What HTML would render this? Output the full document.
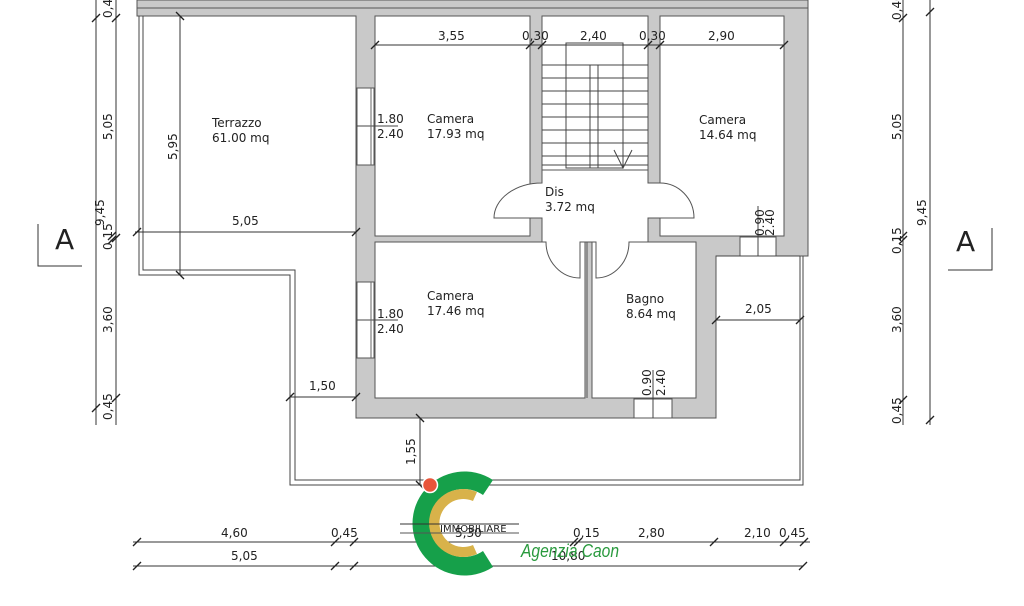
<!DOCTYPE html>
<html><head><meta charset="utf-8"><style>
html,body{margin:0;padding:0;background:#fff;}
svg{display:block;}
text{font-family:"DejaVu Sans","Liberation Sans",sans-serif;fill:#222;}
</style></head><body>
<svg width="1024" height="606" viewBox="0 0 1024 606" xmlns="http://www.w3.org/2000/svg">
<rect width="1024" height="606" fill="#fff"/>
<path d="M137,0 H808 V256 H716 V418 H356 V16 H137 Z" fill="#c9c9c9" stroke="#555" stroke-width="1"/>
<line x1="137" y1="8" x2="808" y2="8" stroke="#555" stroke-width="1"/>
<g fill="#fff" stroke="#555" stroke-width="1">
<rect x="375" y="16" width="155" height="220"/>
<rect x="542" y="16" width="106" height="154"/>
<rect x="660" y="16" width="124" height="220"/>
<rect x="375" y="242" width="210" height="156"/>
<rect x="592" y="242" width="104" height="156"/>
<path d="M542,170 H648 V183 H660 A34,35 0 0 1 694,218 H648 V242 H629 A33,36 0 0 1 596,278 V242 H580 V278 A34,36 0 0 1 546,242 H542 V218 H494 A48,35 0 0 1 542,183 Z"/>
<rect x="357" y="88" width="17" height="77"/>
<rect x="357" y="282" width="17" height="76"/>
<rect x="740" y="237" width="36" height="19"/>
<rect x="634" y="399" width="38" height="19"/>
</g>
<line x1="357" y1="126" x2="398" y2="126" stroke="#444"/>
<line x1="357" y1="320" x2="398" y2="320" stroke="#444"/>
<line x1="371" y1="88" x2="371" y2="165" stroke="#666"/>
<line x1="371" y1="282" x2="371" y2="358" stroke="#666"/>
<line x1="758" y1="206" x2="758" y2="256" stroke="#444"/>
<line x1="653" y1="370" x2="653" y2="418" stroke="#444"/>
<line x1="587" y1="242" x2="587" y2="398" stroke="#555"/>
<g stroke="#444" stroke-width="1" fill="none">
<rect x="566" y="43" width="57" height="125"/>
<rect x="590" y="65" width="8" height="103"/>
<line x1="542" y1="65" x2="648" y2="65"/><line x1="542" y1="78" x2="648" y2="78"/>
<line x1="542" y1="91" x2="648" y2="91"/><line x1="542" y1="104" x2="648" y2="104"/>
<line x1="542" y1="117" x2="648" y2="117"/><line x1="542" y1="130" x2="648" y2="130"/>
<line x1="542" y1="143" x2="648" y2="143"/><line x1="542" y1="156" x2="648" y2="156"/>
<line x1="542" y1="165" x2="648" y2="165"/>
<polyline points="614,150 623,168 632,150"/>
</g>
<g stroke="#444" stroke-width="1" fill="none">
<path d="M139,16 V275 H290 V485 H803 V256"/>
<path d="M143,16 V270 H295 V480 H800 V256"/>
<line x1="716" y1="256" x2="800" y2="256"/>
</g>
<g stroke="#333" stroke-width="1" fill="none">
<line x1="375" y1="45" x2="784" y2="45"/>
<line x1="135" y1="232" x2="356" y2="232"/>
<line x1="180" y1="16" x2="180" y2="275"/>
<line x1="290" y1="397" x2="356" y2="397"/>
<line x1="716" y1="320" x2="800" y2="320"/>
<line x1="420" y1="418" x2="420" y2="485"/>
<line x1="96" y1="0" x2="96" y2="425"/>
<line x1="116" y1="0" x2="116" y2="425"/>
<line x1="903" y1="0" x2="903" y2="425"/>
<line x1="930" y1="0" x2="930" y2="425"/>
<line x1="133" y1="542" x2="810" y2="542"/>
<line x1="133" y1="566" x2="803" y2="566"/>
<polyline points="38,224 38,266 82,266"/>
<polyline points="992,228 992,270 948,270"/>
</g>
<g stroke="#222" stroke-width="1.3">
<line x1="371" y1="49" x2="379" y2="41"/><line x1="526" y1="49" x2="534" y2="41"/><line x1="538" y1="49" x2="546" y2="41"/>
<line x1="644" y1="49" x2="652" y2="41"/><line x1="656" y1="49" x2="664" y2="41"/><line x1="780" y1="49" x2="788" y2="41"/>
<line x1="133" y1="236" x2="141" y2="228"/><line x1="352" y1="236" x2="360" y2="228"/>
<line x1="176" y1="12" x2="184" y2="20"/><line x1="176" y1="271" x2="184" y2="279"/>
<line x1="286" y1="401" x2="294" y2="393"/><line x1="352" y1="401" x2="360" y2="393"/>
<line x1="712" y1="324" x2="720" y2="316"/><line x1="796" y1="324" x2="804" y2="316"/>
<line x1="416" y1="414" x2="424" y2="422"/><line x1="416" y1="481" x2="424" y2="489"/>
<line x1="92" y1="22" x2="100" y2="14"/><line x1="112" y1="22" x2="120" y2="14"/>
<line x1="108" y1="240" x2="116" y2="232"/><line x1="108" y1="244" x2="116" y2="236"/><line x1="112" y1="242" x2="120" y2="234"/>
<line x1="92" y1="412" x2="100" y2="404"/><line x1="112" y1="402" x2="120" y2="394"/>
<line x1="899" y1="22" x2="907" y2="14"/><line x1="926" y1="16" x2="934" y2="8"/>
<line x1="899" y1="244" x2="907" y2="236"/><line x1="899" y1="240" x2="907" y2="232"/>
<line x1="899" y1="404" x2="907" y2="396"/><line x1="926" y1="424" x2="934" y2="416"/>
<line x1="133" y1="546" x2="141" y2="538"/><line x1="331" y1="546" x2="339" y2="538"/><line x1="350" y1="546" x2="358" y2="538"/>
<line x1="570" y1="546" x2="578" y2="538"/><line x1="574" y1="546" x2="582" y2="538"/><line x1="710" y1="546" x2="718" y2="538"/>
<line x1="780" y1="546" x2="788" y2="538"/><line x1="800" y1="546" x2="808" y2="538"/>
<line x1="133" y1="570" x2="141" y2="562"/><line x1="331" y1="570" x2="339" y2="562"/><line x1="350" y1="570" x2="358" y2="562"/><line x1="799" y1="570" x2="807" y2="562"/>
</g>
<g font-size="12">
<text x="212" y="127">Terrazzo</text><text x="212" y="142">61.00 mq</text>
<text x="427" y="123">Camera</text><text x="427" y="138">17.93 mq</text>
<text x="699" y="124">Camera</text><text x="699" y="139">14.64 mq</text>
<text x="545" y="196">Dis</text><text x="545" y="211">3.72 mq</text>
<text x="427" y="300">Camera</text><text x="427" y="315">17.46 mq</text>
<text x="626" y="303">Bagno</text><text x="626" y="318">8.64 mq</text>
<text x="377" y="123">1.80</text><text x="377" y="138">2.40</text>
<text x="377" y="318">1.80</text><text x="377" y="333">2.40</text>
<text x="438" y="40">3,55</text><text x="522" y="40">0,30</text><text x="580" y="40">2,40</text><text x="639" y="40">0,30</text><text x="708" y="40">2,90</text>
<text x="232" y="225">5,05</text><text x="309" y="390">1,50</text><text x="745" y="313">2,05</text>
<text x="221" y="537">4,60</text><text x="331" y="537">0,45</text><text x="455" y="537">5,30</text><text x="573" y="537">0,15</text><text x="638" y="537">2,80</text><text x="744" y="537">2,10</text><text x="779" y="537">0,45</text>
<text x="231" y="560">5,05</text><text x="551" y="560">10,80</text>
</g>
<g font-size="12">
<text transform="translate(177,160) rotate(-90)">5,95</text>
<text transform="translate(415,465) rotate(-90)">1,55</text>
<text transform="translate(112,140) rotate(-90)">5,05</text>
<text transform="translate(112,250) rotate(-90)">0,15</text>
<text transform="translate(112,333) rotate(-90)">3,60</text>
<text transform="translate(112,420) rotate(-90)">0,45</text>
<text transform="translate(112,18) rotate(-90)">0,40</text>
<text transform="translate(104,226) rotate(-90)">9,45</text>
<text transform="translate(901,140) rotate(-90)">5,05</text>
<text transform="translate(901,254) rotate(-90)">0,15</text>
<text transform="translate(901,333) rotate(-90)">3,60</text>
<text transform="translate(901,424) rotate(-90)">0,45</text>
<text transform="translate(901,20) rotate(-90)">0,40</text>
<text transform="translate(926,226) rotate(-90)">9,45</text>
<text transform="translate(764,236) rotate(-90)">0.90</text><text transform="translate(774,236) rotate(-90)">2.40</text>
<text transform="translate(651,396) rotate(-90)">0.90</text><text transform="translate(665,396) rotate(-90)">2.40</text>
</g>
<text x="55" y="249" font-size="28">A</text>
<text x="956" y="251" font-size="28">A</text>
<path d="M493,480 A52,52 0 1 0 493,567 L483,551 A34,34 0 1 1 483,495 Z" fill="#16a04a"/>
<path d="M477,492 A34,34 0 1 0 477,554 L473,545 A24,24 0 1 1 473,501 Z" fill="#d8b24a"/>
<circle cx="430" cy="485" r="7.5" fill="#e8553a" stroke="#fff" stroke-width="1.5"/>
<line x1="400" y1="524" x2="519" y2="524" stroke="#333"/>
<line x1="400" y1="533" x2="519" y2="533" stroke="#555"/>
<text x="440" y="532" font-size="10" fill="#333">IMMOBILIARE</text>
<text x="521" y="557" font-size="18" font-style="italic" textLength="98" lengthAdjust="spacingAndGlyphs" style="fill:#2a9a3e;font-family:'Liberation Sans',sans-serif">Agenzia Caon</text>
</svg>
</body></html>
